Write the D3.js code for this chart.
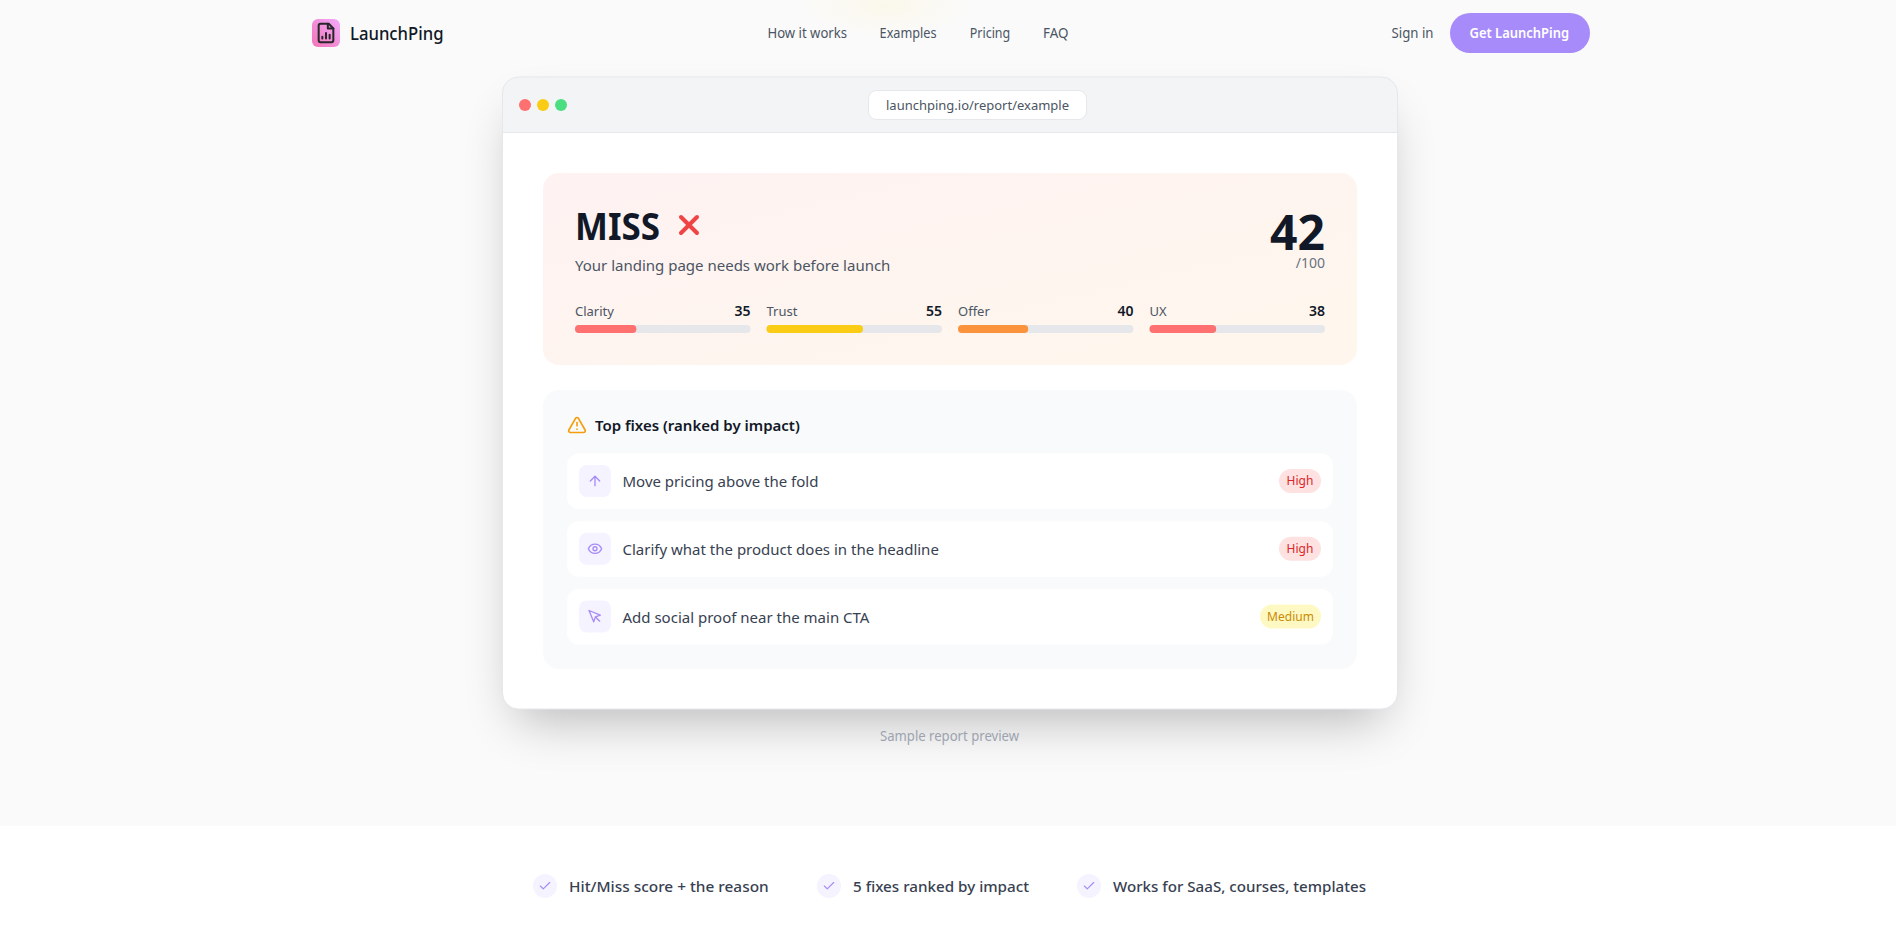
<!DOCTYPE html>
<html lang="en">
<head>
<meta charset="UTF-8">
<title>LaunchPing</title>
<script src="https://cdn.jsdelivr.net/npm/d3@7"></script>
<style>
    html, body { margin: 0; background: #fff; overflow: hidden; }
    svg { display: block; font-family: "Noto Sans", sans-serif; }
</style>
</head>
<body>
<script>
const navLinks = ["How it works", "Examples", "Pricing", "FAQ"]
const categories = ["Clarity", "Trust", "Offer", "UX"]
const scores = [35, 55, 40, 38]
const scoreColors = ["#ff7070", "#facc15", "#fb923c", "#ff7070"]
const totalScore = 42
const fixes = ["Move pricing above the fold", "Clarify what the product does in the headline", "Add social proof near the main CTA"]
const impacts = ["High", "High", "Medium"]
const fixIcons = ["up", "eye", "cursor"]
const features = ["Hit/Miss score + the reason", "5 fixes ranked by impact", "Works for SaaS, courses, templates"]

const w = 1896, h = 937
const svg = d3.select("body").append("svg").attr("width", w).attr("height", h)
const defs = svg.append("defs")

defs.append("filter").attr("id", "blur").attr("x", "-20%").attr("y", "-20%").attr("width", "140%").attr("height", "140%")
    .append("feGaussianBlur").attr("stdDeviation", 25)
let grad = defs.append("linearGradient").attr("id", "panel").attr("x1", 0).attr("y1", 0).attr("x2", 1).attr("y2", 1)
grad.append("stop").attr("offset", 0).attr("stop-color", "#fef2f2")
grad.append("stop").attr("offset", 1).attr("stop-color", "#fff7ed")
let logoGrad = defs.append("linearGradient").attr("id", "logo").attr("x1", 1).attr("y1", 0).attr("x2", 0).attr("y2", 1)
logoGrad.append("stop").attr("offset", 0).attr("stop-color", "#f0abfc")
logoGrad.append("stop").attr("offset", 1).attr("stop-color", "#f472b6")
let glow = defs.append("radialGradient").attr("id", "glow")
glow.append("stop").attr("offset", 0).attr("stop-color", "#fef3c7").attr("stop-opacity", 0.3)
glow.append("stop").attr("offset", 1).attr("stop-color", "#fef3c7").attr("stop-opacity", 0)

// fit squeezes the noto glyphs to the width
function text(g, x, y, str, size, color, weight, anchor, fit) {
    let t = g.append("text").attr("x", x).attr("y", y).text(str)
        .attr("font-size", size).attr("fill", color)
        .attr("font-weight", weight || 400).attr("text-anchor", anchor || "start")
    if (fit) t.attr("textLength", fit).attr("lengthAdjust", "spacingAndGlyphs")
    return t
}
function box(g, x, y, width, height, r, fill) {
    return g.append("rect").attr("x", x).attr("y", y).attr("width", width).attr("height", height).attr("rx", r).attr("fill", fill)
}
function icon(g, x, y, size, color, width, paths) {
    let n = g.append("g").attr("transform", `translate(${x},${y}) scale(${size / 24})`)
        .attr("fill", "none").attr("stroke", color).attr("stroke-width", width)
        .attr("stroke-linecap", "round").attr("stroke-linejoin", "round")
    paths.forEach(d => n.append("path").attr("d", d))
    return n
}

// page background
box(svg, 0, 0, w, 826, 0, "#fafafa")
svg.append("ellipse").attr("cx", 885).attr("cy", 6).attr("rx", 85).attr("ry", 30).attr("fill", "url(#glow)")

// header
const head = svg.append("g")
box(head, 312, 19, 28, 28, 6, "url(#logo)")
icon(head, 315, 22, 22, "#27272a", 2.2, ["M15 2H6a2 2 0 0 0-2 2v16a2 2 0 0 0 2 2h12a2 2 0 0 0 2-2V7z", "M14 2v5h6", "M8 18v-2", "M12 18v-6", "M16 18v-4"])
text(head, 350, 39.5, "LaunchPing", 18, "#111827", 500, "start", 93.5)
const navX = [767.5, 879.6, 969.7, 1043]
const navW = [79.5, 57, 40.6, 25.4]
navLinks.forEach((d, i) => text(head, navX[i], 38, d, 14, "#4b5563", 400, "start", navW[i]))
text(head, 1391.5, 38, "Sign in", 14, "#4b5563", 400, "start", 42)
box(head, 1450, 13, 140, 40, 20, "#a78bfa")
text(head, 1469.5, 38, "Get LaunchPing", 14, "#fff", 600, "start", 99.5)

// browser window
box(svg, 515, 114, 870, 607, 16, "#000").attr("opacity", 0.25).attr("filter", "url(#blur)")
const win = svg.append("g")
box(win, 502.5, 77, 895, 632, 16, "#fff")
win.append("path").attr("d", "M502.5 132V93a16 16 0 0 1 16-16H1381.5a16 16 0 0 1 16 16V132Z").attr("fill", "#f3f4f6")
box(win, 502.5, 77, 895, 632, 16, "none").attr("stroke", "#e5e7eb")
win.append("line").attr("x1", 503).attr("x2", 1397).attr("y1", 132.5).attr("y2", 132.5).attr("stroke", "#e5e7eb")
win.selectAll("circle.dot").data(["#ff7070", "#facc15", "#4ade80"]).enter().append("circle")
    .attr("cx", (d, i) => 525 + i * 18).attr("cy", 105).attr("r", 6).attr("fill", d => d)
box(win, 868.5, 90.5, 218, 29, 8, "#fff").attr("stroke", "#e5e7eb")
text(win, 886, 109.5, "launchping.io/report/example", 13, "#4b5563", 400, "start", 183)

// score panel
const panel = win.append("g")
box(panel, 543, 173, 814, 192, 16, "url(#panel)")
text(panel, 575, 240, "MISS", 38, "#111827", 700, "start", 85)
icon(panel, 673, 209, 32, "#ef4444", 3, ["M18 6 6 18", "m6 6 12 12"])
text(panel, 575, 271, "Your landing page needs work before launch", 15, "#4b5563")
text(panel, 1325, 250, totalScore, 48, "#111827", 700, "end")
text(panel, 1325, 268, "/100", 14, "#6b7280", 400, "end")

const colScale = d3.scaleBand().domain(categories).range([575, 1325]).paddingInner(16 / 191.5)
const barScale = d3.scaleLinear().domain([0, 100]).range([0, colScale.bandwidth()])
const cols = panel.selectAll("g.col").data(categories).enter().append("g").attr("class", "col")
    .attr("transform", d => `translate(${colScale(d)},0)`)
cols.each(function (d, i) {
    const c = d3.select(this)
    text(c, 0, 316, d, 13, "#4b5563")
    text(c, colScale.bandwidth(), 316, scores[i], 14, "#111827", 600, "end")
    box(c, 0, 325, barScale(100), 8, 4, "#e5e7eb")
    box(c, 0, 325, barScale(scores[i]), 8, 4, scoreColors[i])
})

// fixes
const list = win.append("g")
box(list, 543, 390, 814, 279, 16, "#f9fafb")
icon(list, 567, 415, 20, "#f59e0b", 2, ["m21.73 18-8-14a2 2 0 0 0-3.48 0l-8 14A2 2 0 0 0 4 21h16a2 2 0 0 0 1.73-3", "M12 9v4", "M12 17h.01"])
text(list, 595, 431, "Top fixes (ranked by impact)", 15, "#111827", 600)

const rowScale = d3.scalePoint().domain(d3.range(fixes.length)).range([453.5, 589])
const iconPaths = {
    up: ["m5 12 7-7 7 7", "M12 19V5"],
    eye: ["M2 12s3-7 10-7 10 7 10 7-3 7-10 7-10-7-10-7Z", "M12 9a3 3 0 1 0 0 6 3 3 0 0 0 0-6Z"],
    cursor: ["M3 3l7.07 17 2.51-7.39L20 10.07z", "m13 13 6 6"]
}
fixes.forEach((d, i) => {
    const row = list.append("g").attr("transform", `translate(0,${rowScale(i)})`)
    box(row, 567, 0, 766, 55.5, 12, "#fff")
    box(row, 579, 11.5, 32, 32, 8, "#f5f3ff")
    icon(row, 587, 19.5, 16, "#a78bfa", 2, iconPaths[fixIcons[i]])
    text(row, 622.5, 33.5, d, 15, "#374151")
    const high = impacts[i] === "High"
    const bw = high ? 42 : 61
    box(row, 1321 - bw, 15.5, bw, 24, 12, high ? "#fee2e2" : "#fef9c3")
    text(row, 1321 - bw / 2, 31.5, impacts[i], 12, high ? "#dc2626" : "#ca8a04", 400, "middle")
})

text(svg, 880, 740.5, "Sample report preview", 14, "#9ca3af", 400, "start", 139)

// feature strip
const featX = [533, 817, 1077]
const featW = [199.7, 176, 253]
features.forEach((d, i) => {
    const g = svg.append("g").attr("transform", `translate(${featX[i]},874)`)
    box(g, 0, 0, 24, 24, 12, "#f5f3ff")
    icon(g, 5, 5, 14, "#a78bfa", 2, ["M20 6 9 17l-5-5"])
    text(g, 36, 18, d, 15, "#374151", 500, "start", featW[i])
})
</script>
</body>
</html>
